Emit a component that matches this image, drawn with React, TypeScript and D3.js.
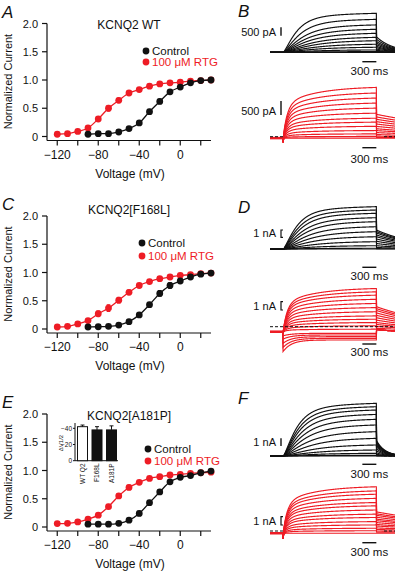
import React from "react";
import * as d3 from "d3";

const FONT = "'Liberation Sans', Arial, Helvetica, sans-serif";
const RED = "#ee1c25";
const BLK = "#111111";

// ---- G-V data (normalized current) ----
const vRtg = [-120, -110, -100, -90, -80, -70, -60, -50, -40, -30, -20, -10, 0, 10, 20, 30];
const vCtrl = [-90, -80, -70, -60, -50, -40, -30, -20, -10, 0, 10, 20, 30];

const wtCtrl = [0.04, 0.05, 0.05, 0.08, 0.14, 0.24, 0.44, 0.62, 0.79, 0.875, 0.95, 0.99, 1.0];
const wtCtrlErr = [0.01, 0.01, 0.01, 0.01, 0.02, 0.03, 0.04, 0.04, 0.03, 0.03, 0.02, 0.01, 0.01];
const wtRtg = [0.04, 0.05, 0.09, 0.15, 0.31, 0.5, 0.64, 0.77, 0.83, 0.89, 0.93, 0.95, 0.96, 0.98, 0.99, 1.0];
const wtRtgErr = [0.01, 0.01, 0.01, 0.02, 0.04, 0.05, 0.04, 0.03, 0.02, 0.02, 0.01, 0.01, 0.01, 0.01, 0.01, 0.01];

const f168Ctrl = [0.035, 0.04, 0.047, 0.07, 0.13, 0.25, 0.43, 0.63, 0.77, 0.85, 0.92, 0.97, 0.99];
const f168CtrlErr = [0.01, 0.01, 0.01, 0.01, 0.02, 0.03, 0.04, 0.05, 0.05, 0.03, 0.02, 0.01, 0.01];
const f168Rtg = [0.035, 0.047, 0.09, 0.15, 0.27, 0.37, 0.51, 0.65, 0.77, 0.84, 0.89, 0.92, 0.95, 0.96, 0.98, 0.99];
const f168RtgErr = [0.01, 0.01, 0.01, 0.03, 0.05, 0.06, 0.05, 0.04, 0.02, 0.02, 0.01, 0.01, 0.01, 0.01, 0.01, 0.01];

const a181Ctrl = [0.05, 0.05, 0.05, 0.065, 0.12, 0.24, 0.43, 0.62, 0.8, 0.88, 0.91, 0.96, 0.99];
const a181CtrlErr = [0.01, 0.01, 0.01, 0.01, 0.02, 0.04, 0.04, 0.04, 0.03, 0.02, 0.02, 0.01, 0.01];
const a181Rtg = [0.06, 0.065, 0.09, 0.14, 0.21, 0.36, 0.55, 0.7, 0.79, 0.86, 0.89, 0.92, 0.93, 0.95, 0.96, 0.97];
const a181RtgErr = [0.01, 0.01, 0.01, 0.02, 0.02, 0.04, 0.04, 0.04, 0.03, 0.02, 0.02, 0.01, 0.01, 0.01, 0.01, 0.01];

const yTicks = [0, 0.5, 1.0, 1.5, 2.0];
const yTickLabels = ["0", "0.5", "1.0", "1.5", "2.0"];
const xTicks = [-120, -100, -80, -60, -40, -20, 0, 20];
const xTickLabels = ["\u2212120", "", "\u221280", "", "\u221240", "", "0", ""];

// ---- inset: shift of V1/2 ----
const insetCats = ["WT Q2", "F168L", "A181P"];
const insetVals = [-42, -38, -38];
const insetErr = [2, 4, 5];

// ---- current traces: amplitude at end of each step (nA) ----
const bCtrlAmps = [2.32, 1.96, 1.63, 1.37, 1.13, 0.89, 0.69, 0.48, 0.3, 0.14, 0.04, 0];
const bRtgAmps = [1.81, 1.61, 1.43, 1.25, 1.07, 0.89, 0.71, 0.57, 0.42, 0.27, 0.15, 0.06, 0];
const dCtrlAmps = [5.8, 5.34, 4.89, 4.29, 3.74, 3.05, 2.37, 1.68, 1.0, 0.45, 0.1, 0];
const dRtgAmps = [5.2, 4.8, 4.4, 3.9, 3.4, 2.9, 2.4, 1.9, 1.5, 1.1, 0.7, 0.3];
const dRtgInInit = [-3.0, -2.5, -2.0, -1.5, -1.1];
const dRtgInFinal = [-1.6, -1.4, -1.2, -1.0, -0.8];
const fCtrlAmps = [6.84, 6.4, 5.97, 5.4, 4.76, 4.03, 3.16, 2.29, 1.43, 0.78, 0.35, 0.09, 0];
const fRtgAmps = [5.6, 5.1, 4.7, 4.2, 3.7, 3.3, 2.8, 2.3, 1.9, 1.4, 1.0, 0.6, 0.3, 0];

const PULSE = 2000;
const tSamples = d3.range(-280, 2401, 5);
const tx = d3.scaleLinear().domain([-280, 2400]).range([270, 395]);

type GVProps = {
  top: number;
  letter: string;
  title: string;
  titleY: number;
  legendX: number;
  legendY: [number, number];
  ctrl: number[];
  ctrlErr: number[];
  rtg: number[];
  rtgErr: number[];
  inset?: boolean;
};

function Series({ xs, ys, err, color, x, y }: any) {
  const pts = xs.map((v: number, i: number) => [v, ys[i]]);
  const line = d3
    .line()
    .x((d: any) => x(d[0]))
    .y((d: any) => y(d[1]))
    .curve(d3.curveMonotoneX);
  return (
    <g>
      <path d={line(pts) || ""} fill="none" stroke={color} strokeWidth={1.3} />
      {pts.map((d: number[], i: number) => (
        <g key={i} stroke={color} strokeWidth={1}>
          <line x1={x(d[0])} x2={x(d[0])} y1={y(d[1] - err[i])} y2={y(d[1] + err[i])} />
          <line x1={x(d[0]) - 1.8} x2={x(d[0]) + 1.8} y1={y(d[1] - err[i])} y2={y(d[1] - err[i])} />
          <line x1={x(d[0]) - 1.8} x2={x(d[0]) + 1.8} y1={y(d[1] + err[i])} y2={y(d[1] + err[i])} />
        </g>
      ))}
      {pts.map((d: number[], i: number) => (
        <circle key={"c" + i} cx={x(d[0])} cy={y(d[1])} r={3.4} fill={color} />
      ))}
    </g>
  );
}

function Inset() {
  const y = d3.scaleLinear().domain([0, -40]).range([460.7, 428.3]);
  const xb = d3.scaleBand().domain(insetCats).range([77.5, 116.5]).paddingInner(0.31);
  return (
    <g fontFamily={FONT}>
      <line x1={75} x2={75} y1={423} y2={460.7} stroke={BLK} strokeWidth={1} />
      <line x1={75} x2={118} y1={460.7} y2={460.7} stroke={BLK} strokeWidth={1} />
      {[0, -20, -40].map((t) => (
        <g key={t}>
          <line x1={73} x2={75} y1={y(t)} y2={y(t)} stroke={BLK} />
          <text x={72} y={y(t) + 2.3} fontSize={6.5} textAnchor="end">
            {t === 0 ? "0" : "\u2212" + Math.abs(t)}
          </text>
        </g>
      ))}
      <text transform="translate(62.5,443) rotate(-90)" fontSize={6} textAnchor="middle">
        ΔV1/2
      </text>
      {insetCats.map((c, i) => {
        const bx = xb(c) as number;
        const w = xb.bandwidth();
        const cx = bx + w / 2;
        return (
          <g key={c}>
            <rect
              x={bx}
              y={y(insetVals[i])}
              width={w}
              height={y(0) - y(insetVals[i])}
              fill={i === 0 ? "#fff" : BLK}
              stroke={BLK}
              strokeWidth={1}
            />
            <line x1={cx} x2={cx} y1={y(insetVals[i])} y2={y(insetVals[i] - insetErr[i])} stroke={BLK} />
            <line x1={cx - 2} x2={cx + 2} y1={y(insetVals[i] - insetErr[i])} y2={y(insetVals[i] - insetErr[i])} stroke={BLK} />
            <text transform={`translate(${cx + 2.3},463.5) rotate(-90)`} fontSize={6.5} textAnchor="end">
              {c}
            </text>
          </g>
        );
      })}
    </g>
  );
}

function GVPanel(p: GVProps) {
  const x = d3.scaleLinear().domain([-130, 30]).range([47, 211]);
  const y = d3.scaleLinear().domain([0, 2]).range([p.top + 113, p.top]);
  const axisY = p.top + 117;
  return (
    <g fontFamily={FONT} fill={BLK}>
      <text x={2} y={p.top - 6} fontSize={17} fontStyle="italic">
        {p.letter}
      </text>
      <text x={129} y={p.titleY} fontSize={12} textAnchor="middle">
        {p.title}
      </text>
      <line x1={47} x2={47} y1={p.top} y2={axisY} stroke={BLK} strokeWidth={1.2} />
      <line x1={47} x2={211} y1={axisY} y2={axisY} stroke={BLK} strokeWidth={1.2} />
      {yTicks.map((t, i) => (
        <g key={t}>
          <line x1={42} x2={47} y1={y(t)} y2={y(t)} stroke={BLK} strokeWidth={1.2} />
          <text x={38} y={y(t) + 4} fontSize={11} textAnchor="end">
            {yTickLabels[i]}
          </text>
        </g>
      ))}
      {xTicks.map((t, i) => (
        <g key={t}>
          <line x1={x(t)} x2={x(t)} y1={axisY} y2={axisY + 5} stroke={BLK} strokeWidth={1.2} />
          {xTickLabels[i] && (
            <text x={x(t)} y={p.top + 135} fontSize={12} textAnchor="middle">
              {xTickLabels[i]}
            </text>
          )}
        </g>
      ))}
      <text transform={`translate(12,${p.top + 58}) rotate(-90)`} fontSize={11} textAnchor="middle">
        Normalized Current
      </text>
      <text x={130} y={p.top + 154} fontSize={12} textAnchor="middle">
        Voltage (mV)
      </text>
      <Series xs={vRtg} ys={p.rtg} err={p.rtgErr} color={RED} x={x} y={y} />
      <Series xs={vCtrl} ys={p.ctrl} err={p.ctrlErr} color={BLK} x={x} y={y} />
      <circle cx={p.legendX} cy={p.legendY[0]} r={3.4} fill={BLK} />
      <text x={p.legendX + 6} y={p.legendY[0] + 4} fontSize={11.5}>
        Control
      </text>
      <circle cx={p.legendX} cy={p.legendY[1]} r={3.4} fill={RED} />
      <text x={p.legendX + 6} y={p.legendY[1] + 4} fontSize={11.5} fill={RED}>
        100 μM RTG
      </text>
      {p.inset && <Inset />}
    </g>
  );
}

type TraceCfg = {
  letter?: string;
  letterY?: number;
  zeroY: number;
  pxPerNA: number;
  amps: number[];
  kind: "ctrl" | "rtg";
  hold: number;
  tailFrac: number;
  tailTau: number;
  spike: number;
  color: string;
  barNA: number;
  barLabel: string;
  barBottom: number;
  bracket: boolean;
  timeBarY: number;
  timeLabelY: number;
  dash: "none" | "left" | "right" | "both" | "full";
  inInit?: number[];
  inFinal?: number[];
};

function current(c: TraceCfg, A: number, amax: number, t: number) {
  if (t < 0) return c.hold;
  if (t <= PULSE) {
    if (c.kind === "ctrl") {
      const tau = 250 + 350 * (1 - A / amax);
      const f = (tt: number) => 0.85 * Math.pow(1 - Math.exp(-tt / tau), 1.5) + 0.15 * (1 - Math.exp(-tt / 1500));
      return c.hold + (A * f(t)) / f(PULSE);
    }
    const f = (tt: number) => 0.65 * (1 - Math.exp(-tt / 90)) + 0.35 * (1 - Math.exp(-tt / 700));
    return c.hold + (A * f(t)) / f(PULSE) - c.spike * Math.exp(-t / 12);
  }
  return c.hold + c.tailFrac * A * Math.exp(-(t - PULSE) / c.tailTau);
}

function TracePanel({ c }: { c: TraceCfg }) {
  const y = d3.scaleLinear().domain([0, 1]).range([c.zeroY, c.zeroY - c.pxPerNA]);
  const line = d3
    .line()
    .x((d: any) => tx(d[0]))
    .y((d: any) => y(d[1]));
  const amax = d3.max(c.amps) as number;
  const paths = c.amps.map((A) => line(tSamples.map((t) => [t, current(c, A, amax, t)]) as any));
  const inPaths = (c.inInit || []).map((a0, i) => {
    const a1 = (c.inFinal as number[])[i];
    return line(
      tSamples.map((t) => {
        let v = c.hold;
        if (t >= 0 && t <= PULSE) v = a1 + (a0 - a1) * Math.exp(-t / 180);
        else if (t > PULSE) v = c.hold + 0.3 * Math.exp(-(t - PULSE) / 300);
        return [t, v];
      }) as any
    );
  });
  const bx = 281;
  const bTop = c.barBottom - c.barNA * c.pxPerNA;
  const z = y(0);
  let dashSegs: number[][] = [];
  if (c.dash === "left" || c.dash === "both") dashSegs.push([270, 284]);
  if (c.dash === "right" || c.dash === "both") dashSegs.push([384, 395]);
  if (c.dash === "full") dashSegs.push([270, 395]);
  return (
    <g fontFamily={FONT}>
      {c.letter && (
        <text x={238} y={c.letterY} fontSize={17} fontStyle="italic" fill={BLK}>
          {c.letter}
        </text>
      )}
      {paths.map((d, i) => (
        <path key={i} d={d || ""} fill="none" stroke={c.color} strokeWidth={1.15} />
      ))}
      {inPaths.map((d, i) => (
        <path key={"in" + i} d={d || ""} fill="none" stroke={c.color} strokeWidth={1.15} />
      ))}
      {c.kind === "rtg" && (
        <line x1={270} x2={tx(0)} y1={y(c.hold)} y2={y(c.hold)} stroke={c.color} strokeWidth={2.5} />
      )}
      {dashSegs.map((s, i) => (
        <line key={"d" + i} x1={s[0]} x2={s[1]} y1={z} y2={z} stroke={BLK} strokeWidth={1} strokeDasharray="3,2" />
      ))}
      {c.bracket ? (
        <path d={`M${bx + 2},${bTop}H${bx}V${c.barBottom}H${bx + 2}`} fill="none" stroke={BLK} strokeWidth={1.2} />
      ) : (
        <line x1={bx} x2={bx} y1={bTop} y2={c.barBottom} stroke={BLK} strokeWidth={1.4} />
      )}
      <text x={bx - 5} y={c.barBottom} fontSize={11} textAnchor="end" fill={BLK}>
        {c.barLabel}
      </text>
      <line x1={tx(PULSE - 300)} x2={tx(PULSE)} y1={c.timeBarY} y2={c.timeBarY} stroke={BLK} strokeWidth={1.4} />
      <text x={tx(PULSE - 150)} y={c.timeLabelY} fontSize={11.5} textAnchor="middle" fill={BLK}>
        300 ms
      </text>
    </g>
  );
}

const traceCfgs: TraceCfg[] = [
  { letter: "B", letterY: 17, zeroY: 52.3, pxPerNA: 16.8, amps: bCtrlAmps, kind: "ctrl", hold: 0, tailFrac: 0.4, tailTau: 350, spike: 0, color: BLK, barNA: 0.5, barLabel: "500 pA", barBottom: 35.7, bracket: false, timeBarY: 61.7, timeLabelY: 75, dash: "none" },
  { zeroY: 136.7, pxPerNA: 28, amps: bRtgAmps, kind: "rtg", hold: -0.05, tailFrac: 0.47, tailTau: 2500, spike: 0.15, color: RED, barNA: 0.5, barLabel: "500 pA", barBottom: 115, bracket: false, timeBarY: 147.7, timeLabelY: 163, dash: "both" },
  { letter: "D", letterY: 213, zeroY: 249, pxPerNA: 7.3, amps: dCtrlAmps, kind: "ctrl", hold: 0, tailFrac: 0.45, tailTau: 900, spike: 0, color: BLK, barNA: 1, barLabel: "1 nA", barBottom: 237.3, bracket: true, timeBarY: 267.3, timeLabelY: 280, dash: "left" },
  { zeroY: 326.7, pxPerNA: 8.3, amps: dRtgAmps, kind: "rtg", hold: -0.6, tailFrac: 0.58, tailTau: 1500, spike: 0.2, color: RED, barNA: 1, barLabel: "1 nA", barBottom: 310, bracket: true, timeBarY: 344, timeLabelY: 356, dash: "full", inInit: dRtgInInit, inFinal: dRtgInFinal },
  { letter: "F", letterY: 404, zeroY: 456, pxPerNA: 7.7, amps: fCtrlAmps, kind: "ctrl", hold: 0, tailFrac: 0.3, tailTau: 180, spike: 0, color: BLK, barNA: 1, barLabel: "1 nA", barBottom: 446, bracket: false, timeBarY: 464.3, timeLabelY: 478, dash: "right" },
  { zeroY: 531, pxPerNA: 8.3, amps: fRtgAmps, kind: "rtg", hold: -0.27, tailFrac: 0.46, tailTau: 2500, spike: 0.7, color: RED, barNA: 1, barLabel: "1 nA", barBottom: 525, bracket: true, timeBarY: 542.7, timeLabelY: 556, dash: "both" },
];

export default function App() {
  return (
    <svg
      width={395}
      height={573}
      style={{ position: "absolute", left: 0, top: 0, background: "#fff" }}
    >
      <GVPanel top={23.5} letter="A" title="KCNQ2 WT" titleY={29} legendX={146} legendY={[51, 62]} ctrl={wtCtrl} ctrlErr={wtCtrlErr} rtg={wtRtg} rtgErr={wtRtgErr} />
      <GVPanel top={216} letter="C" title="KCNQ2[F168L]" titleY={214} legendX={142} legendY={[243, 256]} ctrl={f168Ctrl} ctrlErr={f168CtrlErr} rtg={f168Rtg} rtgErr={f168RtgErr} />
      <GVPanel top={414} letter="E" title="KCNQ2[A181P]" titleY={420} legendX={148} legendY={[449, 461]} ctrl={a181Ctrl} ctrlErr={a181CtrlErr} rtg={a181Rtg} rtgErr={a181RtgErr} inset />
      {traceCfgs.map((c, i) => (
        <TracePanel key={i} c={c} />
      ))}
    </svg>
  );
}
